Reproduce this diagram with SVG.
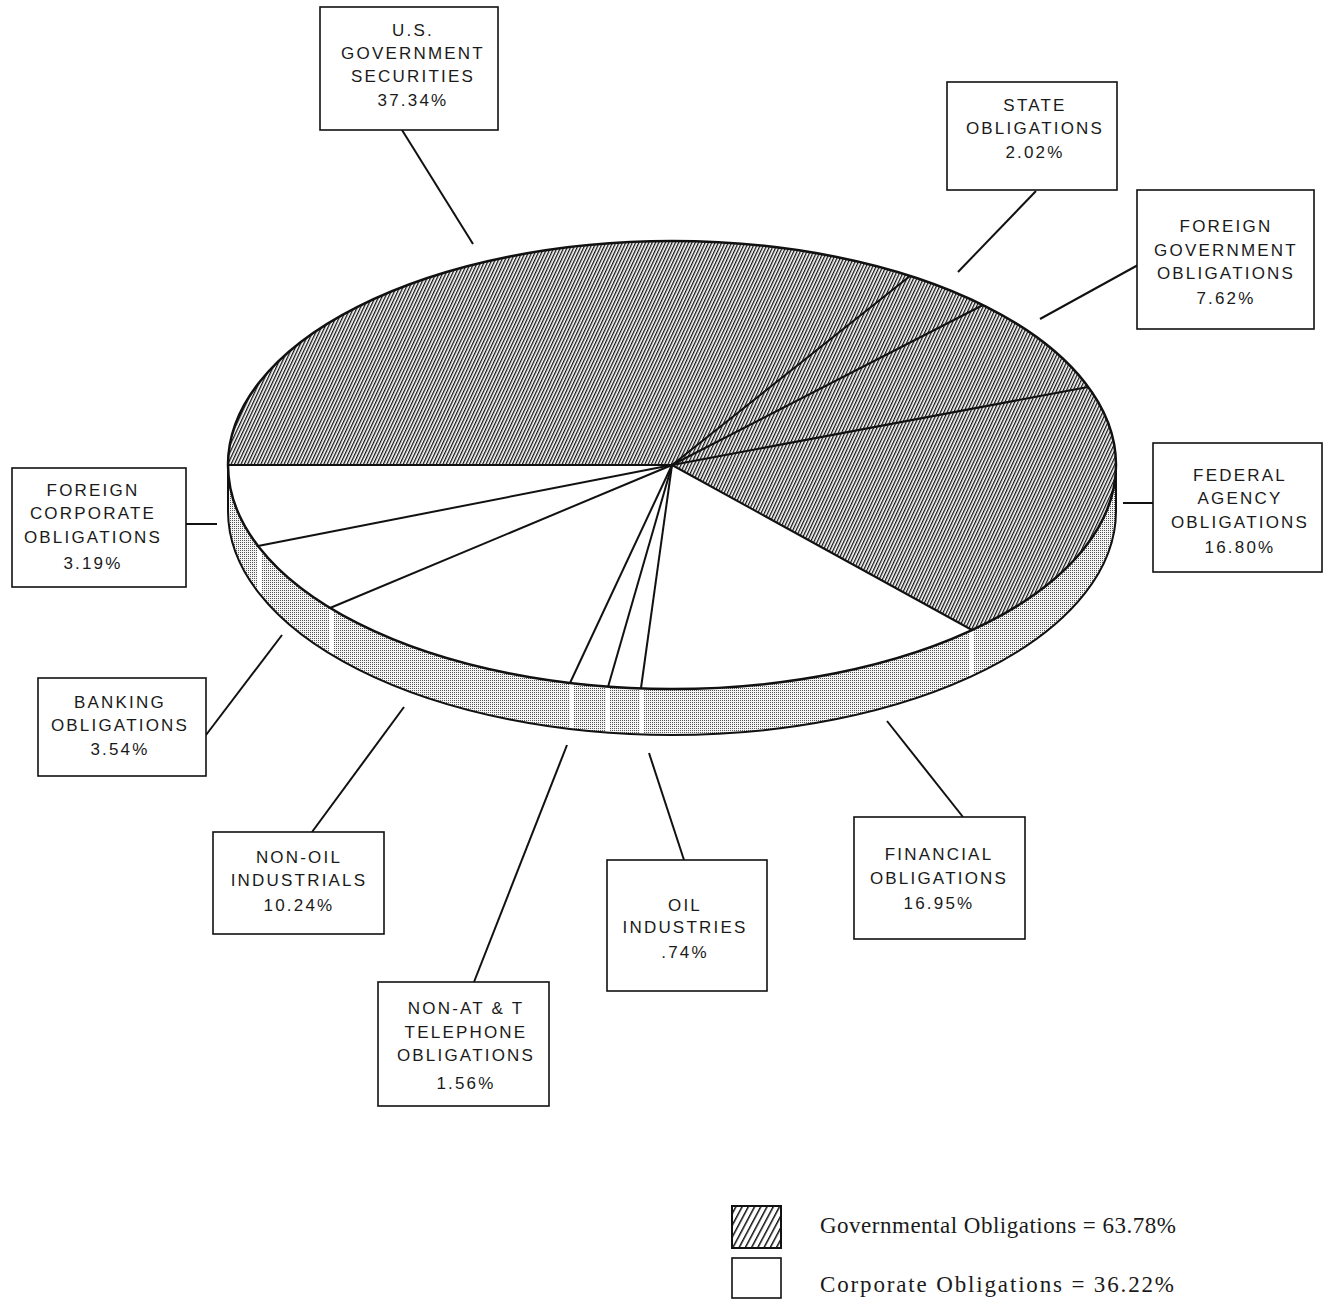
<svg xmlns="http://www.w3.org/2000/svg" width="1330" height="1302" viewBox="0 0 1330 1302">
<style>
.box{fill:#fff;stroke:#111;stroke-width:1.6}
.lbl{font-family:"Liberation Sans",Arial,sans-serif;font-size:17px;letter-spacing:2.2px;fill:#1a1a1a;text-anchor:middle}
.conn{stroke:#111;stroke-width:2;fill:none}
.slice{stroke:#111;stroke-width:2;fill:none}
.leg{font-family:"Liberation Serif","Times New Roman",serif;font-size:23px;fill:#1a1a1a}
</style>
<defs>
<pattern id="hatch" patternUnits="userSpaceOnUse" width="3" height="3" patternTransform="rotate(25)">
<rect width="3" height="3" fill="#fff"/>
<rect x="0" y="0" width="1.3" height="3" fill="#111"/>
</pattern>
<pattern id="hatchL" patternUnits="userSpaceOnUse" width="5.5" height="5.5" patternTransform="rotate(28)">
<rect width="5.5" height="5.5" fill="#fff"/>
<rect x="0" y="0" width="1.5" height="5.5" fill="#111"/>
</pattern>
<pattern id="stipple" patternUnits="userSpaceOnUse" width="2" height="2">
<rect width="2" height="2" fill="#f4f4f4"/>
<rect x="0" y="0" width="1" height="1" fill="#555"/>
</pattern>
</defs>
<rect width="1330" height="1302" fill="#fff"/>

<g id="pie">
<path d="M228,465 A444,224 0 0 0 1116,465 L1116,511 A444,224 0 0 1 228,511 Z" fill="url(#stipple)"/>
<g fill="#fff">
<rect x="257" y="546" width="5" height="47"/>
<rect x="329" y="608" width="5" height="47"/>
<rect x="570" y="683" width="4" height="47"/>
<rect x="606" y="687" width="4" height="47"/>
<rect x="640" y="688" width="4" height="47"/>
<rect x="969" y="630" width="5" height="47"/>
</g>
<path d="M1116,465 L1116,511 A444,224 0 0 1 228,511 L228,465" fill="none" stroke="#111" stroke-width="2"/>
<path d="M672,465 L228,465 A444,224 0 1 1 972,630 Z" fill="url(#hatch)"/>
<path d="M672,465 L972,630 A444,224 0 0 1 228,465 Z" fill="#fff"/>
<g class="slice">
<line x1="672" y1="465" x2="228" y2="465"/>
<line x1="672" y1="465" x2="258" y2="546"/>
<line x1="672" y1="465" x2="330" y2="608"/>
<line x1="672" y1="465" x2="570" y2="683"/>
<line x1="672" y1="465" x2="608" y2="687"/>
<line x1="672" y1="465" x2="641" y2="688"/>
<line x1="672" y1="465" x2="972" y2="630"/>
<line x1="672" y1="465" x2="1088" y2="387"/>
<line x1="672" y1="465" x2="983" y2="305"/>
<line x1="672" y1="465" x2="910" y2="276"/>
</g>
<ellipse cx="672" cy="465" rx="444" ry="224" fill="none" stroke="#111" stroke-width="2.5"/>
</g>

<g id="connectors">
<line class="conn" x1="402" y1="130" x2="473" y2="244"/>
<line class="conn" x1="1036" y1="191" x2="958" y2="272"/>
<line class="conn" x1="1138" y1="265" x2="1040" y2="319"/>
<line class="conn" x1="1123" y1="503" x2="1153" y2="503"/>
<line class="conn" x1="186" y1="524" x2="217" y2="524"/>
<line class="conn" x1="206" y1="735" x2="282" y2="635"/>
<line class="conn" x1="312" y1="832" x2="404" y2="707"/>
<line class="conn" x1="474" y1="982" x2="567" y2="745"/>
<line class="conn" x1="684" y1="860" x2="649" y2="753"/>
<line class="conn" x1="963" y1="817" x2="887" y2="721"/>
</g>

<g id="us-government">
<rect class="box" x="320" y="7" width="178" height="123"/>
<text class="lbl" x="413" y="36">U.S.</text>
<text class="lbl" x="413" y="59">GOVERNMENT</text>
<text class="lbl" x="413" y="82">SECURITIES</text>
<text class="lbl" x="413" y="106">37.34%</text>
</g>
<g id="state">
<rect class="box" x="947" y="82" width="170" height="108"/>
<text class="lbl" x="1035" y="111">STATE</text>
<text class="lbl" x="1035" y="134">OBLIGATIONS</text>
<text class="lbl" x="1035" y="158">2.02%</text>
</g>
<g id="foreign-government">
<rect class="box" x="1137" y="190" width="177" height="139"/>
<text class="lbl" x="1226" y="232">FOREIGN</text>
<text class="lbl" x="1226" y="256">GOVERNMENT</text>
<text class="lbl" x="1226" y="279">OBLIGATIONS</text>
<text class="lbl" x="1226" y="304">7.62%</text>
</g>
<g id="federal-agency">
<rect class="box" x="1153" y="443" width="169" height="129"/>
<text class="lbl" x="1240" y="481">FEDERAL</text>
<text class="lbl" x="1240" y="504">AGENCY</text>
<text class="lbl" x="1240" y="528">OBLIGATIONS</text>
<text class="lbl" x="1240" y="553">16.80%</text>
</g>
<g id="foreign-corporate">
<rect class="box" x="12" y="468" width="174" height="119"/>
<text class="lbl" x="93" y="496">FOREIGN</text>
<text class="lbl" x="93" y="519">CORPORATE</text>
<text class="lbl" x="93" y="543">OBLIGATIONS</text>
<text class="lbl" x="93" y="569">3.19%</text>
</g>
<g id="banking">
<rect class="box" x="38" y="678" width="168" height="98"/>
<text class="lbl" x="120" y="708">BANKING</text>
<text class="lbl" x="120" y="731">OBLIGATIONS</text>
<text class="lbl" x="120" y="755">3.54%</text>
</g>
<g id="non-oil">
<rect class="box" x="213" y="832" width="171" height="102"/>
<text class="lbl" x="299" y="863">NON-OIL</text>
<text class="lbl" x="299" y="886">INDUSTRIALS</text>
<text class="lbl" x="299" y="911">10.24%</text>
</g>
<g id="non-att">
<rect class="box" x="378" y="982" width="171" height="124"/>
<text class="lbl" x="466" y="1014">NON-AT &amp; T</text>
<text class="lbl" x="466" y="1038">TELEPHONE</text>
<text class="lbl" x="466" y="1061">OBLIGATIONS</text>
<text class="lbl" x="466" y="1089">1.56%</text>
</g>
<g id="oil">
<rect class="box" x="607" y="860" width="160" height="131"/>
<text class="lbl" x="685" y="911">OIL</text>
<text class="lbl" x="685" y="933">INDUSTRIES</text>
<text class="lbl" x="685" y="958">.74%</text>
</g>
<g id="financial">
<rect class="box" x="854" y="817" width="171" height="122"/>
<text class="lbl" x="939" y="860">FINANCIAL</text>
<text class="lbl" x="939" y="884">OBLIGATIONS</text>
<text class="lbl" x="939" y="909">16.95%</text>
</g>

<g id="legend">
<rect x="732" y="1206" width="49" height="42" fill="url(#hatchL)" stroke="#111" stroke-width="2"/>
<rect x="732" y="1258" width="49" height="40" fill="#fff" stroke="#111" stroke-width="1.6"/>
<text class="leg" x="820" y="1233" textLength="356" lengthAdjust="spacing">Governmental Obligations = 63.78%</text>
<text class="leg" x="820" y="1292" textLength="354" lengthAdjust="spacing">Corporate Obligations = 36.22%</text>
</g>
</svg>
